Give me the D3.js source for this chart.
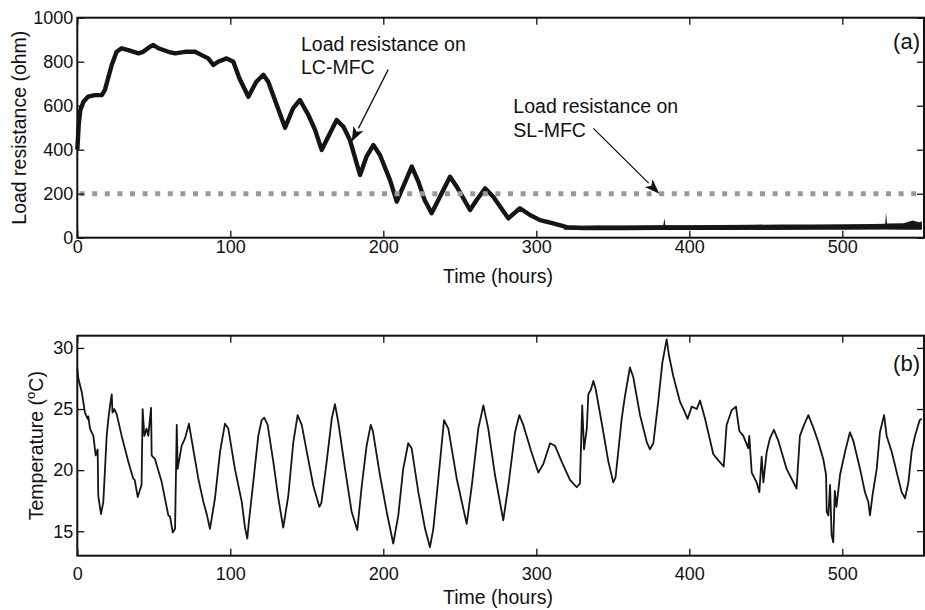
<!DOCTYPE html>
<html>
<script src="https://d3js.org/d3.v7.min.js"></script>

<head>
    <style>
        body {
            margin: 0;
            background-color: white;
            font-family: "Liberation Sans", Arial, Helvetica, sans-serif;
        }

        svg {
            display: block;
        }
    </style>
</head>

<body>
    <svg width="925" height="610"></svg>
</body>
<script>
    const width = 925,
        height = 610;
    const svg = d3.select("svg");

    // panel (a): load resistance on LC-MFC
    const resT = [0, 1, 2, 4, 7, 11.6, 16, 18, 22.5, 25.7, 29, 33.3, 40, 43, 47.5, 49.7, 53, 59.5, 63.9, 70.4,
        77, 81.3, 85.6, 88.9, 92, 97.6, 102, 106, 111.8, 117, 121.6, 124.8, 135.8, 141, 145.5, 151, 155.4,
        159.7, 164, 169.5, 173.9, 178.2, 184.8, 189, 193.5, 197.8, 204.4, 208.8, 213, 218.6, 222.9, 227,
        231.6, 237, 243.6, 248, 256.7, 261, 266.5, 271.9, 281.7, 289.3, 295.9, 302.4, 311, 320, 330, 340,
        360, 380, 400, 420, 440, 460, 480, 500, 520, 540, 552];
    const resV = [400, 520, 580, 618, 641, 648, 648, 671, 785, 845, 861, 853, 838, 845, 868, 876, 861, 845, 838, 845,
        845, 830, 815, 785, 800, 815, 800, 724, 641, 709, 740, 709, 500, 588, 626, 558, 490,
        399, 459, 535, 505, 444, 285, 368, 421, 376, 262, 164, 232, 323, 255, 171,
        111, 186, 277, 232, 126, 171, 224, 186, 88, 134, 103, 80, 65, 48, 44, 44,
        44, 45, 45, 45, 46, 46, 47, 47, 48, 49, 50];
    // noisy band of the flat part
    const bandT = [318, 340, 360, 380, 383, 383.7, 384.4, 400, 420, 440, 460, 480, 500, 520, 528, 528.6, 529.2, 540, 546, 550, 552];
    const bandLo = [36, 35, 35, 36, 36, 36, 36, 36, 36, 36, 36, 37, 37, 37, 37, 37, 37, 36, 36, 36, 36];
    const bandHi = [52, 56, 56, 57, 57, 88, 57, 57, 58, 59, 60, 60, 61, 62, 63, 115, 64, 66, 78, 70, 74];
    const slValue = 200;

    // panel (b): temperature
    const tempT = [0, 0.7, 2.9, 5, 6.8, 7.2, 8.3, 10.5, 12, 13.3, 13.7, 15.5, 17, 18.1, 19.2, 20.3, 21.4, 22.5, 23,
        24.2, 25.7, 29, 33.3, 36.6, 37.5, 39.5, 42, 42.7, 43.8, 45.3, 46.4, 48.2, 48.6, 50.8, 55.2, 59.5, 60.6,
        62.4, 63.9, 65, 65.6, 68.2, 70.4, 73, 74.3, 79.1, 82.4, 84.6, 86.7, 90, 93.3, 96.5, 98.7, 103, 107.5,
        109.6, 111.1, 112, 115, 118.3, 120.5, 122.2, 124.4, 128.1, 131.4, 134.6, 137.9, 141.2, 144, 146.7, 150,
        154.3, 158.2, 159.5, 163, 166.3, 168.4, 170.6, 175, 179.3, 183, 185.9, 189.1, 191.8, 193.2, 197.8, 202.2,
        206.5, 209.8, 213, 216.3, 218.5, 222.9, 227.3, 230.5, 232.7, 236, 239.7, 242.5, 248, 254.5, 257.8, 262.1,
        265.4, 268.6, 273, 278.4, 281.7, 286.1, 288.9, 291.5, 296.5, 301.3, 304.6, 309, 312.2, 316.6, 322, 326.4,
        328.5, 330, 331.2, 333, 334, 335.7, 337.3, 338.7, 342.7, 347.1, 350.3, 351.8, 355.8, 358, 361.2, 363.4,
        367.8, 372.2, 374.3, 376.5, 379.7, 382.4, 385.2, 386.7, 389.5, 393.9, 397.2, 398.9, 401.6, 404.9, 407,
        410.3, 415.7, 419, 422.5, 424.4, 427.7, 430.5, 432.7, 435.3, 438.5, 439.2, 440, 440.8, 444, 445.8, 447.3,
        448.4, 450.6, 452.7, 455.3, 458.2, 463.6, 470.1, 472.3, 475, 477.8, 481, 484.3, 487.6, 489.4, 489.8,
        490.9, 492, 493, 494.1, 495.1, 496.2, 498.5, 501.8, 505, 507.2, 511.6, 514.8, 517, 518.1, 519.8, 522.5,
        524.6, 527.3, 529, 532.3, 535.6, 538.8, 541, 543.2, 545.3, 547.5, 550.6, 552];
    const tempV = [28.3, 27.5, 26.4, 24.7, 24.2, 24.4, 23.4, 22.8, 21.2, 21.7, 17.9, 16.4, 17.4, 20.1, 22.8, 24.2, 25.3, 26.2, 24.7,
        25.0, 24.6, 22.8, 20.7, 19.3, 19.2, 17.8, 18.8, 25.0, 22.8, 23.4, 22.8, 25.1, 21.2, 20.9, 19.0, 16.3, 16.2,
        14.9, 15.2, 23.7, 20.1, 22.0, 22.6, 23.8, 22.8, 19.3, 17.4, 16.4, 15.2, 17.7, 21.5, 23.8, 23.4, 20.1, 17.4,
        15.3, 14.4, 15.6, 19.0, 22.8, 24.1, 24.3, 23.7, 20.7, 17.7, 15.3, 17.9, 22.3, 24.5, 23.7, 21.5,
        18.7, 17.0, 17.3, 20.7, 24.2, 25.4, 23.9, 20.1, 16.6, 15.1, 18.7, 22.0, 23.7, 23.2, 19.6, 16.6,
        14.0, 16.3, 20.1, 22.2, 21.8, 18.2, 15.2, 13.7, 15.2, 19.3, 24.1, 23.4, 19.3, 15.6, 18.7, 23.4,
        25.3, 23.4, 19.6, 15.9, 18.7, 23.1, 24.5, 23.7, 21.6, 19.8, 20.5, 22.2, 22.0, 20.7, 19.2, 18.6,
        18.9, 25.3, 21.7, 23.4, 26.2, 26.6, 27.3, 26.7, 23.9, 20.7, 19.0, 19.4, 24.2, 26.1, 28.4, 27.6,
        24.5, 22.3, 21.7, 22.2, 25.6, 28.8, 30.7, 29.4, 27.7, 25.6, 24.7, 24.2, 25.2, 25.0, 25.7,
        24.2, 21.3, 20.8, 20.3, 23.7, 24.9, 25.2, 23.2, 22.8, 21.8, 22.8, 21.3, 19.8, 19.0, 18.2, 21.1,
        19.0, 21.5, 22.6, 23.3, 22.4, 20.1, 18.5, 22.8, 23.7, 24.5, 23.5, 22.3, 20.9, 19.6, 16.6,
        16.3, 18.8, 14.7, 14.1, 18.3, 17.0, 19.6, 21.5, 23.1, 22.4, 20.1, 18.2, 17.4, 16.3, 18.0, 20.1,
        23.1, 24.5, 22.8, 21.5, 19.8, 18.2, 17.7, 19.0, 21.5, 22.8, 24.1, 24.2];

    const xTicks = [0, 100, 200, 300, 400, 500];
    const resTicks = [0, 200, 400, 600, 800, 1000];
    const tempTicks = [15, 20, 25, 30];

    // annotations in data coordinates (text baseline, arrow tail, arrow tip)
    const notes = [
        { lines: ["Load resistance on", "LC-MFC"], t: 146.2, v: 850, tail: [203.2, 764], tip: [179.3, 436] },
        { lines: ["Load resistance on", "SL-MFC"], t: 285, v: 565, tail: [337.3, 497], tip: [380.4, 200] },
    ];

    const x = d3.scaleLinear().domain([0, 553.4]).range([77.3, 924]);
    const yA = d3.scaleLinear().domain([0, 1000]).range([237.7, 17.7]);
    const yB = d3.scaleLinear().domain([13, 31]).range([555.7, 335.7]);

    function frame(y, yTicks, labelPad) {
        const [y0, y1] = y.range();
        const g = svg.append("g");
        g.append("g")
            .attr("transform", `translate(0,${y0})`)
            .call(d3.axisBottom(x).tickValues(xTicks).tickSize(-7).tickPadding(labelPad).tickFormat(d3.format("d")));
        g.append("g")
            .attr("transform", `translate(0,${y1})`)
            .call(d3.axisTop(x).tickValues(xTicks).tickSize(-7).tickFormat(""));
        g.append("g")
            .attr("transform", `translate(${x.range()[0]},0)`)
            .call(d3.axisLeft(y).tickValues(yTicks).tickSize(-7).tickPadding(4).tickFormat(d3.format("d")));
        g.append("g")
            .attr("transform", `translate(${x.range()[1]},0)`)
            .call(d3.axisRight(y).tickValues(yTicks).tickSize(-7).tickFormat(""));
        g.selectAll(".domain").remove();
        g.selectAll(".tick line").attr("stroke", "#111").attr("stroke-width", 1.3);
        g.selectAll(".tick text")
            .attr("fill", "#111")
            .attr("font-size", "18px")
            .attr("font-family", "'Liberation Sans', Arial, sans-serif");
        g.append("rect")
            .attr("x", x.range()[0])
            .attr("y", y1)
            .attr("width", x.range()[1] - x.range()[0])
            .attr("height", y0 - y1)
            .attr("fill", "none")
            .attr("stroke", "#111")
            .attr("stroke-width", 2);
    }

    function draw() {
        // (a) load resistance
        const band = bandT.map((t, i) => ({ t: t, lo: bandLo[i], hi: bandHi[i] }));
        svg.append("path")
            .datum(band)
            .attr("fill", "#1a1a1a")
            .attr("d", d3.area().x(d => x(d.t)).y0(d => yA(d.lo)).y1(d => yA(d.hi)));

        svg.append("path")
            .datum(resT.map((t, i) => [t, resV[i]]))
            .attr("fill", "none")
            .attr("stroke", "#151515")
            .attr("stroke-width", 4.4)
            .attr("stroke-linejoin", "round")
            .attr("d", d3.line().x(d => x(d[0])).y(d => yA(d[1])));

        svg.append("line")
            .attr("x1", x(1.5))
            .attr("x2", x(553))
            .attr("y1", yA(slValue))
            .attr("y2", yA(slValue))
            .attr("stroke", "#999")
            .attr("stroke-width", 5)
            .attr("stroke-dasharray", "5,7.6");

        frame(yA, resTicks, 3);

        notes.forEach(n => {
            n.lines.forEach((s, i) => {
                svg.append("text")
                    .attr("x", x(n.t))
                    .attr("y", yA(n.v) + i * 23.3)
                    .attr("font-size", "19.5px")
                    .attr("fill", "#111")
                    .text(s);
            });
            const [x0, y0] = [x(n.tail[0]), yA(n.tail[1])];
            const [x1, y1] = [x(n.tip[0]), yA(n.tip[1])];
            const a = Math.atan2(y1 - y0, x1 - x0);
            const len = 15, half = 5.5;
            const bx = x1 - len * Math.cos(a), by = y1 - len * Math.sin(a);
            svg.append("line")
                .attr("x1", x0).attr("y1", y0)
                .attr("x2", bx).attr("y2", by)
                .attr("stroke", "#111")
                .attr("stroke-width", 1.3);
            svg.append("path")
                .attr("fill", "#111")
                .attr("d", d3.line()([
                    [x1, y1],
                    [bx + half * Math.sin(a), by - half * Math.cos(a)],
                    [x1 - 0.75 * len * Math.cos(a), y1 - 0.75 * len * Math.sin(a)],
                    [bx - half * Math.sin(a), by + half * Math.cos(a)],
                ]) + "Z");
        });

        svg.append("text")
            .attr("x", 920)
            .attr("y", 49)
            .attr("text-anchor", "end")
            .attr("font-size", "22px")
            .attr("fill", "#111")
            .text("(a)");

        svg.append("text")
            .attr("x", 498)
            .attr("y", 283)
            .attr("text-anchor", "middle")
            .attr("font-size", "19.5px")
            .attr("fill", "#111")
            .text("Time (hours)");
        svg.append("text")
            .attr("transform", `translate(26,${(yA.range()[0] + yA.range()[1]) / 2}) rotate(-90)`)
            .attr("text-anchor", "middle")
            .attr("font-size", "19.5px")
            .attr("fill", "#111")
            .text("Load resistance (ohm)");

        // (b) temperature
        svg.append("path")
            .datum(tempT.map((t, i) => [t, tempV[i]]))
            .attr("fill", "none")
            .attr("stroke", "#151515")
            .attr("stroke-width", 1.8)
            .attr("stroke-linejoin", "round")
            .attr("d", d3.line().x(d => x(d[0])).y(d => yB(d[1])));

        frame(yB, tempTicks, 12);

        svg.append("text")
            .attr("x", 920)
            .attr("y", 371)
            .attr("text-anchor", "end")
            .attr("font-size", "22px")
            .attr("fill", "#111")
            .text("(b)");

        svg.append("text")
            .attr("x", 498)
            .attr("y", 604)
            .attr("text-anchor", "middle")
            .attr("font-size", "19.5px")
            .attr("fill", "#111")
            .text("Time (hours)");
        const tl = svg.append("text")
            .attr("transform", `translate(43,${(yB.range()[0] + yB.range()[1]) / 2}) rotate(-90)`)
            .attr("text-anchor", "middle")
            .attr("font-size", "19.5px")
            .attr("fill", "#111");
        tl.append("tspan").text("Temperature (");
        tl.append("tspan").attr("font-size", "13px").attr("dy", "-8").text("o");
        tl.append("tspan").attr("dy", "8").text("C)");
    }

    draw();
</script>

</html>
